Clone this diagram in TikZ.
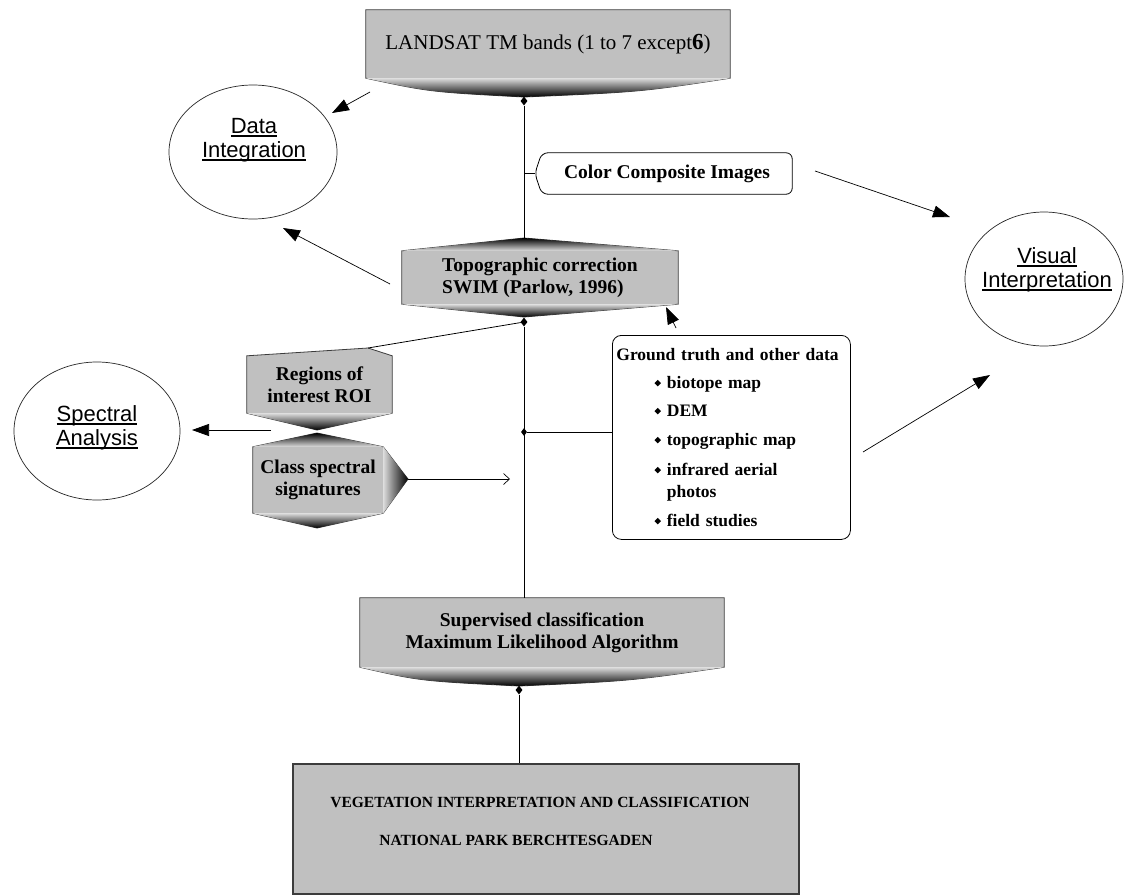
\documentclass[tikz,border=0pt]{standalone}
\usepackage{fontspec}
\setmainfont{Liberation Serif}
\setsansfont{Liberation Sans}
\usepackage{tikz}
\usetikzlibrary{arrows.meta,shapes.geometric,positioning,backgrounds,calc}
\definecolor{boxGray}{RGB}{192,192,192}
\definecolor{edgeGray}{RGB}{60,60,60}
\newsavebox{\goalbox}
\newcommand{\goalText}[1]{\sbox{\goalbox}{#1}\rlap{\rule[-3.5pt]{\wd\goalbox}{1.8pt}}\usebox{\goalbox}}
\newcommand{\gtBullet}{\raisebox{2pt}{\rotatebox{45}{\rule{4.6pt}{4.6pt}}}}
\tikzset{
  procnode/.style={inner sep=0pt, align=center, font=\fontsize{19.5}{22}\selectfont\bfseries},
  procshape/.style={draw=edgeGray, line width=0.8pt, fill=boxGray},
  downCap/.style={top color=boxGray!55!white, middle color=boxGray!75!black, bottom color=black},
  upCap/.style={top color=black, middle color=boxGray!75!black, bottom color=boxGray!55!white},
  sideCap/.style={left color=boxGray!55!white, right color=black},
  goalnode/.style={ellipse, draw=black!85, line width=0.7pt, inner sep=0pt},
  goallabel/.style={align=center, inner sep=0pt, font=\fontsize{22}{24}\selectfont\sffamily},
  joint/.style={diamond, fill=black, inner sep=0pt, minimum width=7pt, minimum height=9pt},
  link/.style={line width=0.8pt},
  flowArrow/.style={-{Triangle[length=17pt,width=12pt]}, line width=0.7pt},
  openArrow/.style={-{Straight Barb[length=6pt,width=11pt]}, line width=0.7pt}
}
\begin{document}
\begin{tikzpicture}[x=1pt, y=-1pt]
\useasboundingbox (0,0) rectangle (1124,895);

% process boxes
\node[procnode, font=\fontsize{21}{24}\selectfont, minimum width=364pt, minimum height=68pt] (landsat) at (548,44)
  {LANDSAT TM bands (1 to 7 except{\bfseries\fontsize{23}{24}\selectfont 6})};
\node[procnode, minimum width=250pt, minimum height=41pt] (ccomp) at (667,173.5) {Color Composite Images};
\node[procnode, align=left, minimum width=276pt, minimum height=53pt] (topo) at (540,277.5)
  {Topographic correction\\SWIM (Parlow, 1996)};
\node[procnode, minimum width=145pt, minimum height=57pt] (roi) at (319.5,384.5) {Regions of\\interest ROI};
\node[procnode, minimum width=130pt, minimum height=66pt] (css) at (318,480) {Class spectral\\signatures};
\node[procnode, minimum width=364pt, minimum height=69pt] (super) at (542,632.5)
  {Supervised classification\\Maximum Likelihood Algorithm};
\node[draw=black, line width=0.8pt, rounded corners=9pt, anchor=north west, minimum width=238pt,
      minimum height=204pt, inner sep=4pt, text width=230pt, align=left,
      font=\fontsize{17.5}{22}\selectfont\bfseries] (ground) at (612,335)
  {Ground truth and other data\\[6pt]
   \hspace*{38pt}\gtBullet\hspace{6pt}biotope map\\[6pt]
   \hspace*{38pt}\gtBullet\hspace{6pt}DEM\\[7pt]
   \hspace*{38pt}\gtBullet\hspace{6pt}topographic map\\[8pt]
   \hspace*{38pt}\gtBullet\hspace{6pt}infrared aerial\\
   \hspace*{38pt}\phantom{\gtBullet}\hspace{6pt}photos\\[7pt]
   \hspace*{38pt}\gtBullet\hspace{6pt}field studies};
\node[draw=edgeGray, line width=1.6pt, fill=boxGray, inner sep=0pt, minimum width=506pt, minimum height=130pt] (final) at (546,829) {};
\node[align=left, inner sep=0pt, font=\fontsize{15.5}{38}\selectfont\bfseries] (finalText) at (540,821)
  {VEGETATION INTERPRETATION AND CLASSIFICATION\\\hspace*{49pt}NATIONAL PARK BERCHTESGADEN};

% goals
\node[goalnode, minimum width=168pt, minimum height=134pt] (dataint) at (253,152) {};
\node[goallabel] (dataintText) at (254,140) {\goalText{Data}\\\goalText{Integration}};
\node[goalnode, minimum width=158pt, minimum height=134pt] (visual) at (1044,279) {};
\node[goallabel] (visualText) at (1047,270) {\goalText{Visual}\\\goalText{Interpretation}};
\node[goalnode, minimum width=166pt, minimum height=138pt] (spectral) at (97,431) {};
\node[goallabel] (spectralText) at (97,428) {\goalText{Spectral}\\\goalText{Analysis}};

% shape points
\coordinate (landsatTip) at (524,97);
\coordinate (ccompTip) at ($(ccomp.west)+(-7,0)$);
\coordinate (topoPeak) at (524,238);
\coordinate (topoBase) at (524,317);
\coordinate (roiPeak) at (368,348);
\coordinate (roiBase) at (317,430);
\coordinate (cssPeak) at (317,433);
\coordinate (cssTip) at (408,479);
\coordinate (cssBase) at (317,528);
\coordinate (superTip) at (519,686);

\begin{scope}[on background layer]
  \fill[white] (0,0) rectangle (1124,895);
  \filldraw[procshape] (landsat.north west) -- (landsat.north east) -- (landsat.south east)
    .. controls (640,92) .. (landsatTip) .. controls (430,92) .. (landsat.south west) -- cycle;
  \shade[downCap] (landsat.south west) -- (landsat.south east) .. controls (640,92) .. (landsatTip)
    .. controls (430,92) .. cycle;
  \filldraw[procshape] (topo.north west) -- (topoPeak) -- (topo.north east) -- (topo.south east)
    -- (topoBase) -- (topo.south west) -- cycle;
  \shade[upCap] (topo.north west) -- (topoPeak) -- (topo.north east) -- cycle;
  \shade[downCap] (topo.south west) -- (topoBase) -- (topo.south east) -- cycle;
  \filldraw[procshape] (roi.north west) -- (roiPeak) -- (roi.north east) -- (roi.south east)
    -- (roiBase) -- (roi.south west) -- cycle;
  \shade[downCap] (roi.south west) -- (roiBase) -- (roi.south east) -- cycle;
  \filldraw[procshape] (css.north west) -- (cssPeak) -- (css.north east) -- (cssTip) -- (css.south east)
    -- (cssBase) -- (css.south west) -- cycle;
  \shade[upCap] (css.north west) -- (cssPeak) -- (css.north east) -- cycle;
  \shade[sideCap] (css.north east) -- (cssTip) -- (css.south east) -- cycle;
  \shade[downCap] (css.south west) -- (cssBase) -- (css.south east) -- cycle;
  \filldraw[procshape] (super.north west) -- (super.north east) -- (super.south east)
    .. controls (630,681) .. (superTip) .. controls (420,681) .. (super.south west) -- cycle;
  \shade[downCap] (super.south west) -- (super.south east) .. controls (630,681) .. (superTip)
    .. controls (420,681) .. cycle;
  \draw[draw=black, line width=0.8pt, fill=white, rounded corners=6pt] (ccomp.north west) -- (ccomp.north east)
    -- (ccomp.south east) -- (ccomp.south west) -- (ccompTip) -- cycle;
\end{scope}

% stem and joints
\node[joint] (jLandsat) at (524,101) {};
\node[joint] (jTopo) at (524,322) {};
\node[joint, minimum width=6pt, minimum height=8pt] (jGround) at (524,432) {};
\node[joint] (jSuper) at (519,690) {};
\draw[link] (jLandsat) -- (topoPeak);
\draw[link] (ccompTip) -- (ccompTip -| jLandsat);
\draw[link] (jTopo) -- (jTopo |- super.north);
\draw[link] (jTopo) -- (roiPeak);
\draw[link] (jGround) -- (jGround -| ground.west);
\draw[link] (jSuper) -- (jSuper |- final.north);
\coordinate (cssHead) at (510,479);
\draw[openArrow] (cssTip) -- (cssHead);

% floating arrows
\coordinate (landsatOut) at (370,92);  \coordinate (dataIn1) at (332,113);
\coordinate (topoOut) at (390,284);    \coordinate (dataIn2) at (283,228);
\coordinate (ccompOut) at (815,171);   \coordinate (visualIn1) at (950,217);
\coordinate (groundOut) at (863,452);  \coordinate (visualIn2) at (990,375);
\coordinate (groundUp) at (676,328);   \coordinate (topoIn) at (666,307);
\coordinate (roiOut) at (271,430);     \coordinate (spectralIn) at (192,430);
\draw[flowArrow] (landsatOut) -- (dataIn1);
\draw[flowArrow] (topoOut) -- (dataIn2);
\draw[flowArrow] (ccompOut) -- (visualIn1);
\draw[flowArrow] (groundOut) -- (visualIn2);
\draw[flowArrow] (groundUp) -- (topoIn);
\draw[flowArrow] (roiOut) -- (spectralIn);
\end{tikzpicture}
\end{document}
